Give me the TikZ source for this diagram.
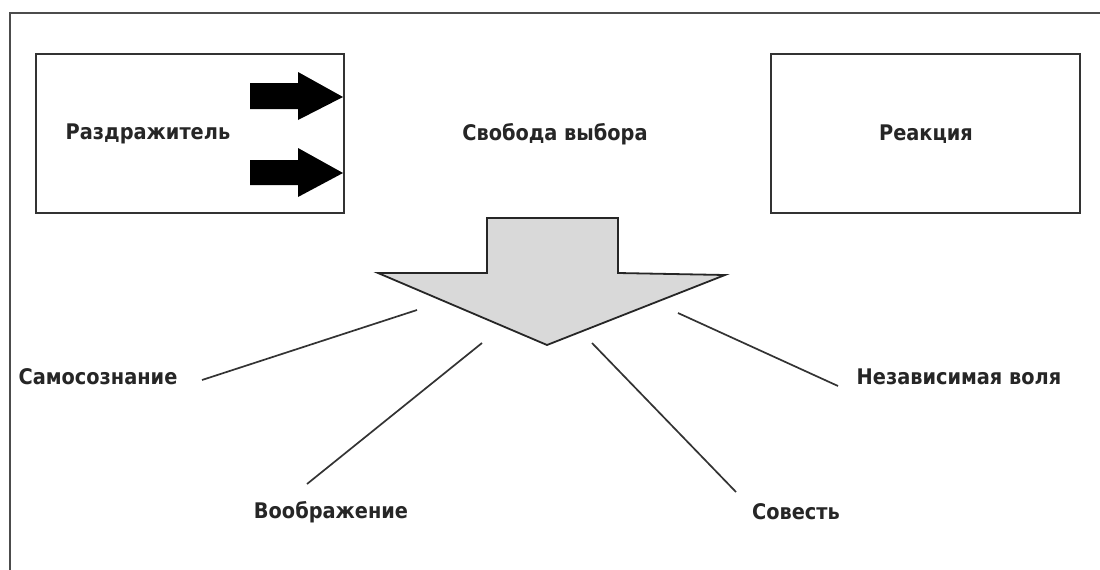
\documentclass[tikz,border=0pt]{standalone}
\usepackage{fontspec}
\setmainfont{DejaVu Sans Condensed}[BoldFont={DejaVu Sans Condensed Bold}]
\begin{document}
\begin{tikzpicture}[x=1pt,y=-1pt,
  box/.style={draw=black!80,line width=2pt,rectangle,minimum width=308pt,minimum height=159pt,anchor=north west,inner sep=0pt},
  lbl/.style={font=\fontsize{21.5}{24}\selectfont\bfseries,text=black!85,inner sep=0pt},
  leader/.style={draw=black!80,line width=1.7pt},
  blockarrow/.style={fill=black,draw=none}]
\useasboundingbox (0,0) rectangle (1100,570);
\fill[white] (0,0) rectangle (1100,570);
% outer frame (top and left edges)
\draw[black!70,line width=2pt] (10,570) -- (10,13) -- (1100,13);
% boxes
\node[box] (stim) at (35,53) {};
\node[box,minimum width=309pt] (resp) at (770,53) {};
\node[lbl] (stimt) at (148,134) {Раздражитель};
\node[lbl] (respt) at (926,134) {Реакция};
\node[lbl] (free) at (555,134) {Свобода выбора};
% black arrows
\fill[blockarrow] (250,83) -- (298,83) -- (298,72) -- (343,97) -- (298,120) -- (298,109) -- (250,109) -- cycle;
\fill[blockarrow] (250,160) -- (298,160) -- (298,148) -- (343,173) -- (298,197) -- (298,185) -- (250,185) -- cycle;
% big down arrow
\filldraw[fill=black!15,draw=black!85,line width=1.8pt,line join=miter]
  (487,218) -- (618,218) -- (618,273) -- (725,275) -- (547,345) -- (378,273) -- (487,273) -- cycle;
% labels
\node[lbl] (self) at (98,377) {Самосознание};
\node[lbl] (imag) at (331,512) {Воображение};
\node[lbl] (cons) at (796,512) {Совесть};
\node[lbl] (will) at (959,377) {Независимая воля};
% leader coordinates
\coordinate (s1) at (417,310); \coordinate (s2) at (202,380);
\coordinate (i1) at (482,343); \coordinate (i2) at (307,484);
\coordinate (c1) at (592,343); \coordinate (c2) at (736,492);
\coordinate (w1) at (678,313); \coordinate (w2) at (838,386);
\draw[leader] (s1) -- (s2);
\draw[leader] (i1) -- (i2);
\draw[leader] (c1) -- (c2);
\draw[leader] (w1) -- (w2);
\end{tikzpicture}
\end{document}
